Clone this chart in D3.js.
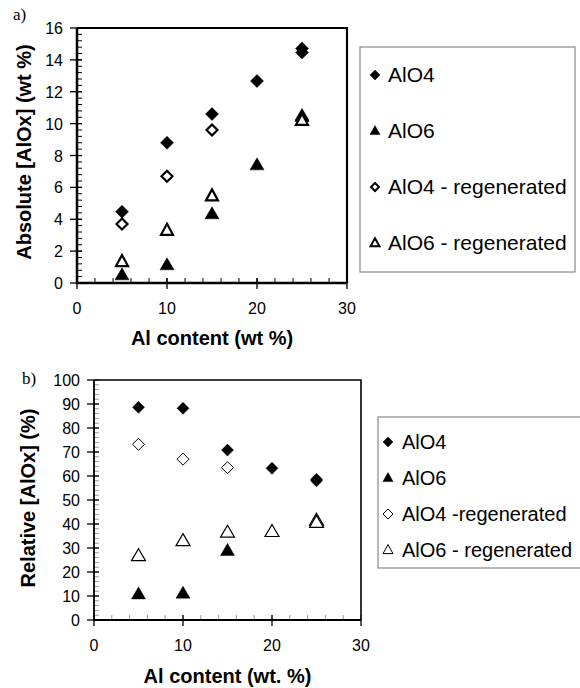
<!DOCTYPE html>
<meta charset="utf-8">
<head>
    <title>AlOx content</title>
    <script src="https://cdn.jsdelivr.net/npm/d3@7"></script>
</head>
<style>
    body { margin: 0; background: #fff; }
    text { font-family: Arial, "Liberation Sans", sans-serif; fill: #000; }
    .tick-label { font-size: 16px; }
    .title { font-size: 20px; font-weight: bold; }
    .legend { font-size: 20px; }
    .legend-a { font-size: 21px; }
    .panel { font-family: "Times New Roman", "Liberation Serif", serif; font-size: 17px; }
</style>
<svg id="chart"></svg>
<script>
    var vWidth = 580;
    var vHeight = 688;

    // x values shared by both panels (duplicates = overlapping points)
    var xFull = [5, 10, 15, 20, 25, 25];

    // panel a) absolute content (wt %)
    var absAlO4 = [4.47, 8.8, 10.6, 12.67, 14.72, 14.47];
    var absAlO6 = [0.5, 1.13, 4.33, 7.4, 10.43, 10.5];
    var absAlO4RegX = [5, 10, 15];
    var absAlO4Reg = [3.7, 6.7, 9.6];
    var absAlO6RegX = [5, 10, 15, 25];
    var absAlO6Reg = [1.34, 3.3, 5.46, 10.2];

    // panel b) relative content (%)
    var relAlO4 = [88.6, 88.2, 70.8, 63.2, 58.6, 58.0];
    var relAlO6X = [5, 10, 15];
    var relAlO6 = [10.8, 11.1, 28.9];
    var relAlO4RegX = [5, 10, 15];
    var relAlO4Reg = [73.2, 67.0, 63.5];
    var relAlO6RegX = [5, 10, 15, 20, 25, 25];
    var relAlO6Reg = [26.7, 33.0, 36.5, 36.8, 41.5, 40.6];

    var xTicks = [0, 10, 20, 30];
    var yTicksA = [0, 2, 4, 6, 8, 10, 12, 14, 16];
    var yTicksB = [0, 10, 20, 30, 40, 50, 60, 70, 80, 90, 100];
    var legendA = ['AlO4', 'AlO6', 'AlO4 - regenerated', 'AlO6 - regenerated'];
    var legendB = ['AlO4', 'AlO6', 'AlO4 -regenerated', 'AlO6 - regenerated'];

    var svg = d3.select('#chart').attr('width', vWidth).attr('height', vHeight);

    // marker shapes, centred on 0,0
    function diamond(h) {
        var p = d3.path();
        p.moveTo(0, -h); p.lineTo(h, 0); p.lineTo(0, h); p.lineTo(-h, 0); p.closePath();
        return p.toString();
    }
    function triangle(w, h) {
        var p = d3.path();
        p.moveTo(0, -h * 0.6); p.lineTo(w / 2, h * 0.4); p.lineTo(-w / 2, h * 0.4); p.closePath();
        return p.toString();
    }

    function zip(xs, ys) { return xs.map(function (x, i) { return [x, ys[i]]; }); }

    function drawPanel(o) {
        var g = svg.append('g');
        var x = d3.scaleLinear().domain([0, 30]).range([o.left, o.right]);
        var y = d3.scaleLinear().domain([0, o.yMax]).range([o.bottom, o.top]);

        // frame (top + right)
        g.append('path')
            .attr('d', 'M' + o.left + ',' + o.top + 'H' + o.right + 'V' + o.bottom)
            .attr('fill', 'none').attr('stroke', '#000').attr('stroke-width', o.frameW);

        // minor ticks
        g.selectAll('.ymin').data(d3.range(0, o.yMax + 1e-9, o.yMinor)).enter().append('line')
            .attr('x1', o.left).attr('x2', o.left + 5)
            .attr('y1', function (d) { return y(d); }).attr('y2', function (d) { return y(d); })
            .attr('stroke', o.minorColor).attr('stroke-width', 1);
        g.selectAll('.xmin').data(d3.range(0, 30.01, 2)).enter().append('line')
            .attr('x1', function (d) { return x(d); }).attr('x2', function (d) { return x(d); })
            .attr('y1', o.bottom).attr('y2', o.bottom - 5)
            .attr('stroke', o.minorColor).attr('stroke-width', 1);

        // major ticks, crossing the axis
        g.selectAll('.ymaj').data(o.yTicks).enter().append('line')
            .attr('x1', o.left - 7).attr('x2', o.left + 5)
            .attr('y1', function (d) { return y(d); }).attr('y2', function (d) { return y(d); })
            .attr('stroke', '#000').attr('stroke-width', 1.3);
        g.selectAll('.xmaj').data(xTicks).enter().append('line')
            .attr('x1', function (d) { return x(d); }).attr('x2', function (d) { return x(d); })
            .attr('y1', o.bottom - 5).attr('y2', o.bottom + 6)
            .attr('stroke', '#000').attr('stroke-width', 1.3);

        // axis lines
        g.append('path')
            .attr('d', 'M' + o.left + ',' + o.top + 'V' + o.bottom + 'H' + o.right)
            .attr('fill', 'none').attr('stroke', '#000').attr('stroke-width', o.axisW);

        // tick labels
        g.selectAll('.yl').data(o.yTicks).enter().append('text')
            .attr('class', 'tick-label')
            .attr('x', o.left - 14).attr('y', function (d) { return y(d) + 6; })
            .attr('text-anchor', 'end').text(function (d) { return d; });
        g.selectAll('.xl').data(xTicks).enter().append('text')
            .attr('class', 'tick-label')
            .attr('x', function (d) { return x(d); }).attr('y', o.bottom + 31)
            .attr('text-anchor', 'middle').text(function (d) { return d; });

        // titles
        g.append('text').attr('class', 'title')
            .attr('x', (o.left + o.right) / 2).attr('y', o.xTitleY)
            .attr('text-anchor', 'middle').text(o.xTitle);
        g.append('text').attr('class', 'title')
            .attr('transform', 'translate(' + o.yTitleX + ',' + o.yTitleMid + ') rotate(-90)')
            .attr('text-anchor', 'middle').text(o.yTitle);
        g.append('text').attr('class', 'panel')
            .attr('x', o.panelX).attr('y', o.panelY).text(o.panel);

        // data marks
        o.series.forEach(function (s) {
            g.selectAll(null).data(s.pts).enter().append('path')
                .attr('d', s.shape)
                .attr('transform', function (d) { return 'translate(' + x(d[0]) + ',' + y(d[1]) + ')'; })
                .attr('fill', s.fill).attr('stroke', '#000').attr('stroke-width', s.sw);
        });

        // legend
        var L = o.legend;
        g.append('rect').attr('x', L.x).attr('y', L.y).attr('width', L.w).attr('height', L.h)
            .attr('fill', 'none').attr('stroke', '#888').attr('stroke-width', 1.2);
        L.labels.forEach(function (lab, i) {
            var s = o.series[i];
            var cy = L.firstY + i * L.step;
            g.append('path').attr('d', L.shapes[i])
                .attr('transform', 'translate(' + L.markX + ',' + cy + ')')
                .attr('fill', s.fill).attr('stroke', '#000').attr('stroke-width', L.sw[i]);
            g.append('text').attr('class', L.cls)
                .attr('x', L.textX).attr('y', cy + 7).text(lab);
        });
    }

    drawPanel({
        left: 77, right: 347, top: 28, bottom: 283, yMax: 16, yMinor: 0.4,
        yTicks: yTicksA, axisW: 2.5, frameW: 2.2, minorColor: '#000',
        xTitle: 'Al content (wt %)', xTitleY: 345,
        yTitle: 'Absolute [AlOx] (wt %)', yTitleX: 31, yTitleMid: 152,
        panel: 'a)', panelX: 13, panelY: 20,
        series: [
            { pts: zip(xFull, absAlO4), shape: diamond(6.5), fill: '#000', sw: 0.5 },
            { pts: zip(xFull, absAlO6), shape: triangle(14, 12), fill: '#000', sw: 0.5 },
            { pts: zip(absAlO4RegX, absAlO4Reg), shape: diamond(5.5), fill: '#fff', sw: 2.2 },
            { pts: zip(absAlO6RegX, absAlO6Reg), shape: triangle(12, 11), fill: '#fff', sw: 2.2 }
        ],
        legend: {
            x: 360, y: 47, w: 215, h: 225, firstY: 75, step: 56, markX: 375, textX: 388,
            labels: legendA, cls: 'legend-a',
            shapes: [diamond(5), triangle(10, 9), diamond(4), triangle(9, 8)],
            sw: [0.5, 0.5, 2, 2]
        }
    });

    drawPanel({
        left: 94, right: 361, top: 380, bottom: 620, yMax: 100, yMinor: 2,
        yTicks: yTicksB, axisW: 1.8, frameW: 1.6, minorColor: '#999',
        xTitle: 'Al content (wt. %)', xTitleY: 683,
        yTitle: 'Relative [AlOx] (%)', yTitleX: 35, yTitleMid: 498,
        panel: 'b)', panelX: 22, panelY: 384,
        series: [
            { pts: zip(xFull, relAlO4), shape: diamond(6), fill: '#000', sw: 0.5 },
            { pts: zip(relAlO6X, relAlO6), shape: triangle(14, 12), fill: '#000', sw: 0.5 },
            { pts: zip(relAlO4RegX, relAlO4Reg), shape: diamond(6), fill: '#fff', sw: 1 },
            { pts: zip(relAlO6RegX, relAlO6Reg), shape: triangle(14, 12), fill: '#fff', sw: 1.2 }
        ],
        legend: {
            x: 378, y: 417, w: 220, h: 151, firstY: 442, step: 36, markX: 388, textX: 402,
            labels: legendB, cls: 'legend',
            shapes: [diamond(5), triangle(10, 9), diamond(5), triangle(10, 9)],
            sw: [0.5, 0.5, 1, 1]
        }
    });
</script>
